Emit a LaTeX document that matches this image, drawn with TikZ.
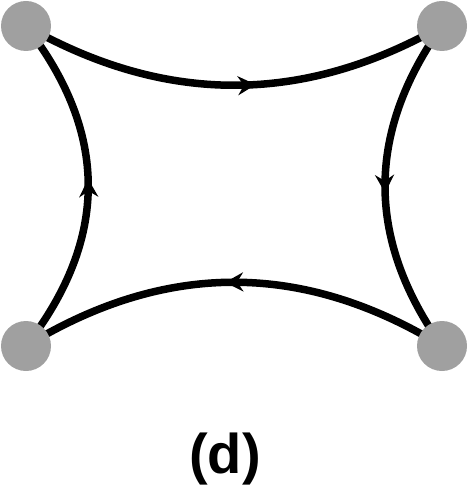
\documentclass[tikz,border=0pt]{standalone}
\usepackage{fontspec}
\setmainfont{Liberation Sans}
\usetikzlibrary{arrows.meta,decorations.markings}
\definecolor{dotgray}{RGB}{160,160,160}
\tikzset{
  dot/.style={circle,fill=dotgray,draw=none,minimum size=50pt,inner sep=0pt},
  edge/.style={line width=7.5pt,black},
  midarrow/.style={postaction={decorate,decoration={markings,
     mark=at position #1 with {\arrow{Stealth[length=18pt,width=19pt,inset=6pt]}}}}},
  lbl/.style={font=\bfseries\fontsize{56}{60}\selectfont,anchor=base,inner sep=0pt}
}
\begin{document}
\begin{tikzpicture}[x=1pt,y=-1pt]
\useasboundingbox (0,0) rectangle (470,494);
\coordinate (tl) at (26,26);
\coordinate (tr) at (442,26);
\coordinate (bl) at (26,346);
\coordinate (br) at (442,346);
\draw[edge,midarrow=0.55] (tl) .. controls (165,105) and (303,105) .. (tr);
\draw[edge,midarrow=0.52] (tr) .. controls (366,133) and (366,239) .. (br);
\draw[edge,midarrow=0.52] (br) .. controls (303,261) and (165,261) .. (bl);
\draw[edge,midarrow=0.52] (bl) .. controls (109,239) and (109,133) .. (tl);
\node[dot] (ntl) at (tl) {};
\node[dot] (ntr) at (tr) {};
\node[dot] (nbl) at (bl) {};
\node[dot] (nbr) at (br) {};
\node[lbl] (label) at (225,473) {(d)};
\end{tikzpicture}
\end{document}
